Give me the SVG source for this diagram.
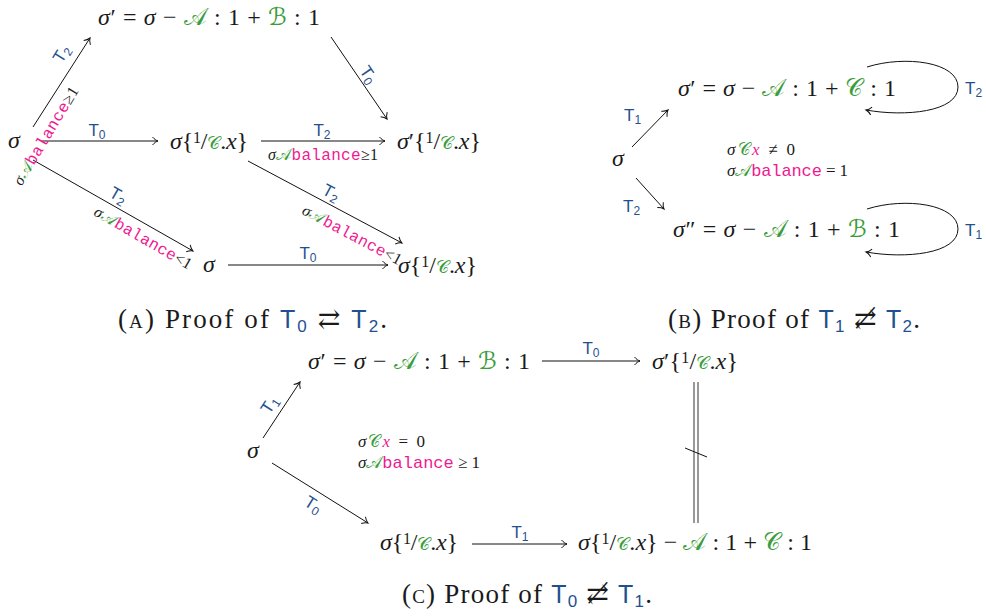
<svg xmlns="http://www.w3.org/2000/svg" width="986" height="616" viewBox="0 0 986 616">
<defs>
<style>
text { font-family: "Liberation Serif", "DejaVu Serif", serif; fill: #1a1a1a; }
.m { font-size: 24px; }
.c { font-size: 16px; }
.c2 { font-size: 17px; }
.i { font-style: italic; }
.s { font-family: "DejaVu Sans", "Noto Sans", serif; fill: #3b9c3b; font-style: normal; }
.tt { font-family: "Liberation Mono", "DejaVu Sans Mono", monospace; fill: #ef1a91; }
.pk { fill: #ef1a91; }
.t { font-family: "Liberation Sans", "DejaVu Sans", sans-serif; font-size: 17px; fill: #1f5190; }
.sub { font-size: 12px; }
.cap { font-size: 27px; }
.tc { font-family: "Liberation Sans", "DejaVu Sans", sans-serif; font-size: 25px; fill: #1f5190; }
.tcs { font-size: 17px; }
.ln { stroke: #111; stroke-width: 1; fill: none; }
.arr { marker-end: url(#ar); }
.dl { stroke: #555; stroke-width: 1.2; fill: none; }
</style>
<marker id="ar" markerUnits="userSpaceOnUse" markerWidth="12" markerHeight="12" viewBox="-8 -6 12 12" refX="0" refY="0" orient="auto" overflow="visible">
<path d="M-5.5,-4 C-3.5,-1.6 -1.5,-0.5 0,0 C-1.5,0.5 -3.5,1.6 -5.5,4" fill="none" stroke="#111" stroke-width="1"/>
</marker>
</defs>
<rect width="986" height="616" fill="#fff"/>

<!-- Panel A nodes -->
<g id="a-top"><text class="m" x="98" y="25" textLength="222" lengthAdjust="spacing"><tspan class="i">σ</tspan>′ = <tspan class="i">σ</tspan> − <tspan class="s">𝒜</tspan> : 1 + <tspan class="s">ℬ</tspan> : 1</text></g>
<g id="a-sigma"><text class="m i" x="8" y="148">σ</text></g>
<g id="a-mid"><text class="m" x="170" y="149" textLength="78" lengthAdjust="spacing"><tspan class="i">σ</tspan>{<tspan font-size="16" dy="-6">1</tspan><tspan dy="6">/</tspan><tspan class="s" font-size="18">𝒞</tspan>.<tspan class="i">x</tspan>}</text></g>
<g id="a-right"><text class="m" x="397" y="149" textLength="84" lengthAdjust="spacing"><tspan class="i">σ</tspan>′{<tspan font-size="16" dy="-6">1</tspan><tspan dy="6">/</tspan><tspan class="s" font-size="18">𝒞</tspan>.<tspan class="i">x</tspan>}</text></g>
<g id="a-bsigma"><text class="m i" x="203" y="272">σ</text></g>
<g id="a-bright"><text class="m" x="398" y="273" textLength="79" lengthAdjust="spacing"><tspan class="i">σ</tspan>{<tspan font-size="16" dy="-6">1</tspan><tspan dy="6">/</tspan><tspan class="s" font-size="18">𝒞</tspan>.<tspan class="i">x</tspan>}</text></g>

<!-- Panel B nodes -->
<g id="b-sigma"><text class="m i" x="612" y="166">σ</text></g>
<g id="b-top"><text class="m" x="678" y="96" textLength="218" lengthAdjust="spacing"><tspan class="i">σ</tspan>′ = <tspan class="i">σ</tspan> − <tspan class="s">𝒜</tspan> : 1 + <tspan class="s">𝒞</tspan> : 1</text></g>
<g id="b-bot"><text class="m" x="673" y="237" textLength="227" lengthAdjust="spacing"><tspan class="i">σ</tspan>″ = <tspan class="i">σ</tspan> − <tspan class="s">𝒜</tspan> : 1 + <tspan class="s">ℬ</tspan> : 1</text></g>
<g id="b-cond">
<text class="c2" x="727" y="155" textLength="68" lengthAdjust="spacing"><tspan class="i">σ</tspan><tspan class="s">𝒞</tspan><tspan class="i pk">x</tspan> ≠ 0</text>
<text class="c2" x="727" y="176" textLength="121" lengthAdjust="spacing"><tspan class="i">σ</tspan><tspan class="s">𝒜</tspan><tspan class="tt">balance</tspan> = 1</text>
</g>

<!-- Panel C nodes -->
<g id="c-top"><text class="m" x="308" y="369" textLength="222" lengthAdjust="spacing"><tspan class="i">σ</tspan>′ = <tspan class="i">σ</tspan> − <tspan class="s">𝒜</tspan> : 1 + <tspan class="s">ℬ</tspan> : 1</text></g>
<g id="c-right"><text class="m" x="652" y="369" textLength="86" lengthAdjust="spacing"><tspan class="i">σ</tspan>′{<tspan font-size="16" dy="-6">1</tspan><tspan dy="6">/</tspan><tspan class="s" font-size="18">𝒞</tspan>.<tspan class="i">x</tspan>}</text></g>
<g id="c-sigma"><text class="m i" x="247" y="458">σ</text></g>
<g id="c-bl"><text class="m" x="380" y="550" textLength="78" lengthAdjust="spacing"><tspan class="i">σ</tspan>{<tspan font-size="16" dy="-6">1</tspan><tspan dy="6">/</tspan><tspan class="s" font-size="18">𝒞</tspan>.<tspan class="i">x</tspan>}</text></g>
<g id="c-br"><text class="m" x="578" y="550" textLength="234" lengthAdjust="spacing"><tspan class="i">σ</tspan>{<tspan font-size="16" dy="-6">1</tspan><tspan dy="6">/</tspan><tspan class="s" font-size="18">𝒞</tspan>.<tspan class="i">x</tspan>} − <tspan class="s">𝒜</tspan> : 1 + <tspan class="s">𝒞</tspan> : 1</text></g>
<g id="c-cond">
<text class="c2" x="358" y="447" textLength="67" lengthAdjust="spacing"><tspan class="i">σ</tspan><tspan class="s">𝒞</tspan><tspan class="i pk">x</tspan> = 0</text>
<text class="c2" x="358" y="468" textLength="122" lengthAdjust="spacing"><tspan class="i">σ</tspan><tspan class="s">𝒜</tspan><tspan class="tt">balance</tspan> ≥ 1</text>
</g>

<!-- Connectors -->
<g id="connectors">
<!-- Panel A -->
<line class="ln arr" x1="33" y1="127" x2="90" y2="38"/>
<line class="ln arr" x1="41" y1="141" x2="158" y2="141"/>
<line class="ln arr" x1="261" y1="141" x2="385" y2="141"/>
<line class="ln arr" x1="331" y1="37" x2="387" y2="119"/>
<line class="ln arr" x1="33" y1="160" x2="193" y2="251"/>
<line class="ln arr" x1="228" y1="265" x2="388" y2="265"/>
<line class="ln arr" x1="248" y1="161" x2="402" y2="243"/>
<!-- Panel B -->
<line class="ln arr" x1="632" y1="147" x2="668" y2="110"/>
<line class="ln arr" x1="636" y1="178" x2="664" y2="209"/>
<path class="ln arr" d="M867,67 C905,55 958,62 958,87 C958,112 905,117 866,110"/>
<path class="ln arr" d="M867,209 C905,197 958,204 958,229 C958,254 905,259 866,252"/>
<!-- Panel C -->
<line class="ln arr" x1="542" y1="361" x2="640" y2="361"/>
<line class="ln arr" x1="263" y1="438" x2="300" y2="382"/>
<line class="ln arr" x1="272" y1="463" x2="368" y2="523"/>
<line class="ln arr" x1="472" y1="544" x2="567" y2="544"/>
<line class="dl" x1="694" y1="382" x2="694" y2="523"/>
<line class="dl" x1="698" y1="382" x2="698" y2="523"/>
<line class="ln" x1="685" y1="448" x2="707" y2="457"/>

<!-- Edge labels Panel A -->
<text class="t" text-anchor="middle" transform="translate(62,54) rotate(-58)" y="5">T<tspan class="sub" dy="3">2</tspan></text>
<text class="c" text-anchor="middle" transform="translate(46,136) rotate(-59)" y="5" textLength="112" lengthAdjust="spacing"><tspan class="i">σ</tspan><tspan class="s">𝒜</tspan><tspan class="tt">balance</tspan>≥1</text>
<text class="t" text-anchor="middle" x="97" y="136">T<tspan class="sub" dy="3">0</tspan></text>
<text class="t" text-anchor="middle" x="322" y="136">T<tspan class="sub" dy="3">2</tspan></text>
<text class="c" text-anchor="middle" x="323" y="160" textLength="110" lengthAdjust="spacing"><tspan class="i">σ</tspan><tspan class="s">𝒜</tspan><tspan class="tt">balance</tspan>≥1</text>
<text class="t" text-anchor="middle" transform="translate(368,75) rotate(56)" y="5">T<tspan class="sub" dy="3">0</tspan></text>
<text class="t" text-anchor="middle" transform="translate(118,196) rotate(30)" y="5">T<tspan class="sub" dy="3">2</tspan></text>
<text class="c" text-anchor="middle" transform="translate(143,238) rotate(30)" y="5" textLength="110" lengthAdjust="spacing"><tspan class="i">σ</tspan><tspan class="s">𝒜</tspan><tspan class="tt">balance</tspan>&lt;1</text>
<text class="t" text-anchor="middle" x="308" y="259">T<tspan class="sub" dy="3">0</tspan></text>
<text class="t" text-anchor="middle" transform="translate(331,193) rotate(28)" y="5">T<tspan class="sub" dy="3">2</tspan></text>
<text class="c" text-anchor="middle" transform="translate(352,235) rotate(28)" y="5" textLength="110" lengthAdjust="spacing"><tspan class="i">σ</tspan><tspan class="s">𝒜</tspan><tspan class="tt">balance</tspan>&lt;1</text>
<!-- Edge labels Panel B -->
<text class="t" x="624" y="121">T<tspan class="sub" dy="3">1</tspan></text>
<text class="t" x="623" y="212">T<tspan class="sub" dy="3">2</tspan></text>
<text class="t" x="965" y="94">T<tspan class="sub" dy="3">2</tspan></text>
<text class="t" x="965" y="236">T<tspan class="sub" dy="3">1</tspan></text>
<!-- Edge labels Panel C -->
<text class="t" text-anchor="middle" x="591" y="354">T<tspan class="sub" dy="3">0</tspan></text>
<text class="t" text-anchor="middle" transform="translate(270,405) rotate(-57)" y="5">T<tspan class="sub" dy="3">1</tspan></text>
<text class="t" text-anchor="middle" transform="translate(313,505) rotate(32)" y="5">T<tspan class="sub" dy="3">0</tspan></text>
<text class="t" text-anchor="middle" x="520" y="538">T<tspan class="sub" dy="3">1</tspan></text>
</g>

<!-- Captions -->
<g id="captions">
<text class="cap" x="118" y="328" textLength="269" lengthAdjust="spacing">(<tspan font-size="19">A</tspan>) Proof of <tspan class="tc">T<tspan class="tcs" dy="4">0</tspan></tspan><tspan dy="-4"> ⇄ </tspan><tspan class="tc">T<tspan class="tcs" dy="4">2</tspan></tspan><tspan dy="-4">.</tspan></text>
<text class="cap" x="668" y="328" textLength="252" lengthAdjust="spacing">(<tspan font-size="19">B</tspan>) Proof of <tspan class="tc">T<tspan class="tcs" dy="4">1</tspan></tspan><tspan dy="-4"> ⇄̸ </tspan><tspan class="tc">T<tspan class="tcs" dy="4">2</tspan></tspan><tspan dy="-4">.</tspan></text>
<text class="cap" x="402" y="603" textLength="250" lengthAdjust="spacing">(<tspan font-size="19">C</tspan>) Proof of <tspan class="tc">T<tspan class="tcs" dy="4">0</tspan></tspan><tspan dy="-4"> ⇄̸ </tspan><tspan class="tc">T<tspan class="tcs" dy="4">1</tspan></tspan><tspan dy="-4">.</tspan></text>
</g>
</svg>
